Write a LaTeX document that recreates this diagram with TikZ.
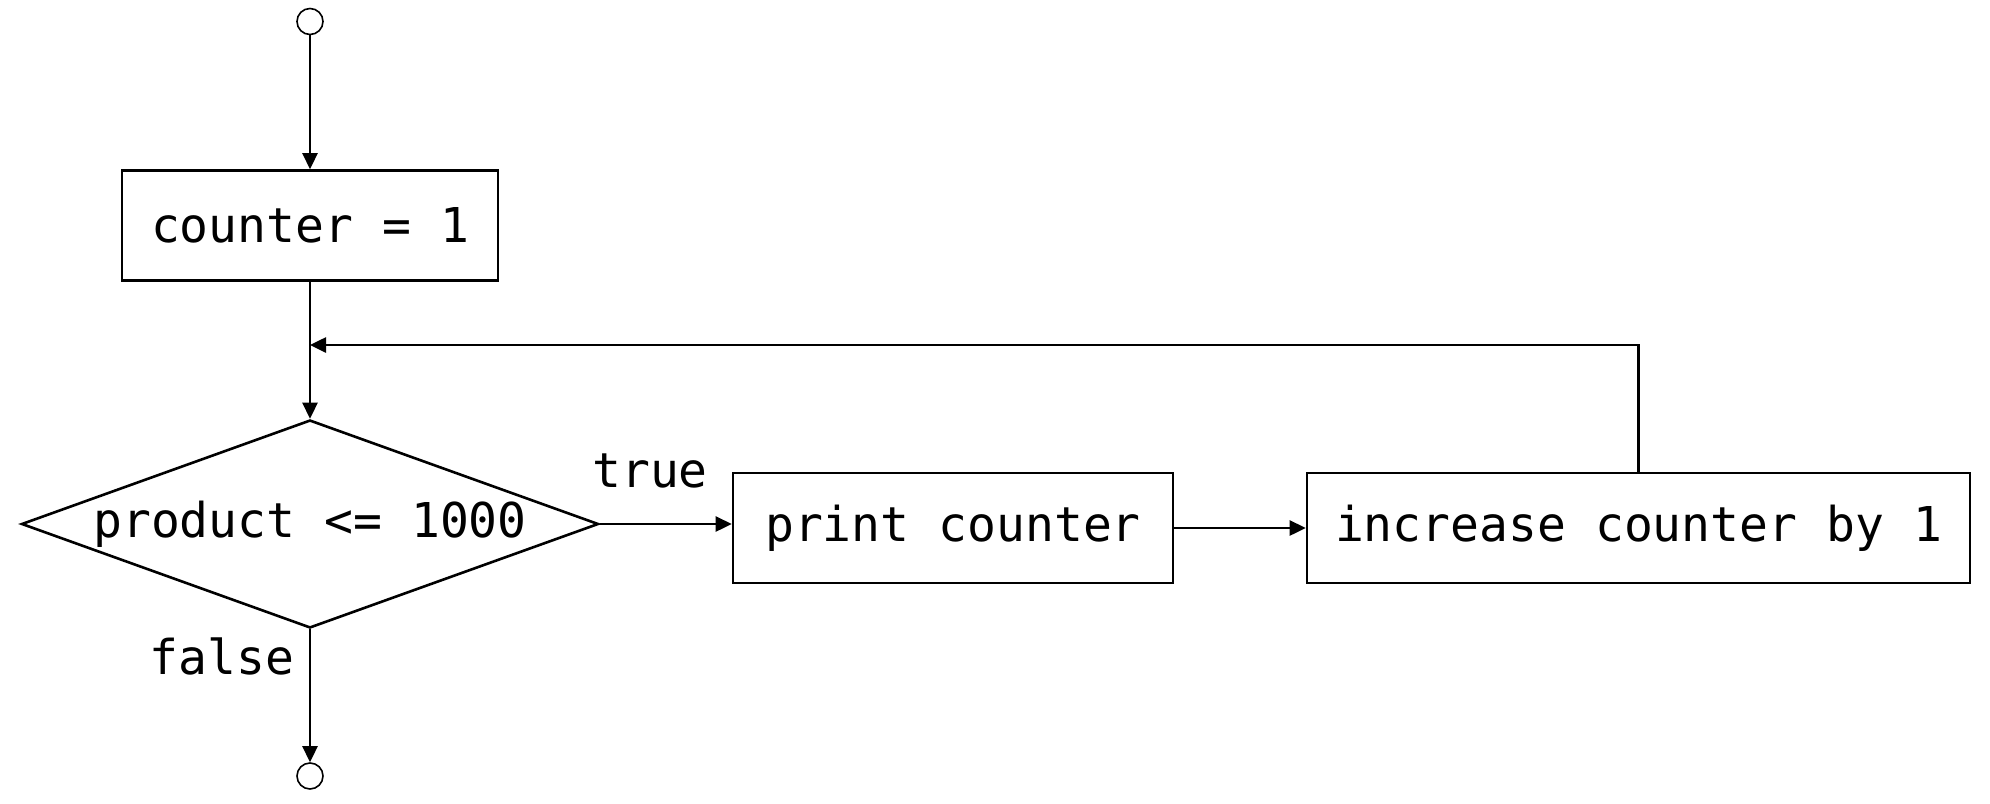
\documentclass[tikz,border=0pt]{standalone}
\usepackage{fontspec}
\setmonofont{DejaVu Sans Mono}
\usetikzlibrary{arrows.meta,shapes.geometric}
\begin{document}
\begin{tikzpicture}[x=0.5pt,y=-0.5pt,
  every node/.style={font=\ttfamily\fontsize{24}{28}\selectfont},
  procbox/.style={draw, line width=1.3pt, rectangle, inner sep=0pt, minimum height=55pt},
  decision/.style={draw, line width=1.3pt, diamond, aspect=2.77, inner sep=0pt, minimum width=288.5pt, minimum height=104pt},
  terminal/.style={draw, line width=0.8pt, circle, minimum size=13pt, inner sep=0pt},
  flow/.style={line width=1.3pt, -{Triangle[length=8pt,width=7.5pt]}},
  lbl/.style={inner sep=0pt}]
\useasboundingbox (0,0) rectangle (1990,803);
\node[terminal] (start) at (310,21.5) {};
\node[procbox, minimum width=188pt] (box1) at (310,225.5) {counter = 1};
\node[decision] (dia) at (310,524) {product <= 1000};
\node[procbox, minimum width=220pt] (print) at (953,528) {print counter};
\node[procbox, minimum width=331.5pt] (inc) at (1638.5,528) {increase counter by 1};
\node[terminal] (stop) at (310,776) {};
\node[lbl] (ltrue) at (650,471) {true};
\node[lbl] (lfalse) at (222,656) {false};
\coordinate (loop) at (1638.5,345);
\draw[flow] (start.south) -- (box1.north);
\draw[flow] (box1.south) -- (dia.north);
\draw[flow] (dia.east) -- (dia.east -| print.west);
\draw[flow] (print.east) -- (inc.west);
\draw[flow] (inc.north) |- (box1.south |- loop);
\draw[flow] (dia.south) -- (stop.north);
\end{tikzpicture}
\end{document}
